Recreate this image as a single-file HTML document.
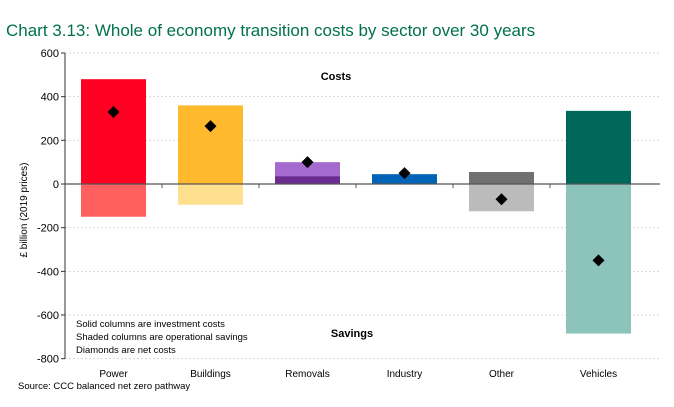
<!DOCTYPE html>
<html><head><meta charset="utf-8"><style>
body{margin:0;background:#fff;font-family:"Liberation Sans",sans-serif}
svg text{font-family:"Liberation Sans",sans-serif}
</style></head><body>
<svg width="674" height="402">
<text x="6" y="36" font-size="17" fill="#00704f">Chart 3.13: Whole of economy transition costs by sector over 30 years</text>
<g id="grid"></g><g id="bars"></g><g id="axes"></g>
<text x="336" y="80" font-size="11" font-weight="bold" text-anchor="middle">Costs</text>
<text x="352" y="337" font-size="11" font-weight="bold" text-anchor="middle">Savings</text>
<text x="76" y="327" font-size="9.5">Solid columns are investment costs</text>
<text x="76" y="340" font-size="9.5">Shaded columns are operational savings</text>
<text x="76" y="353" font-size="9.5">Diamonds are net costs</text>
<text x="18" y="389" font-size="9.5">Source: CCC balanced net zero pathway</text>
<text transform="translate(27,210) rotate(-90)" font-size="10" text-anchor="middle">£ billion (2019 prices)</text>
</svg>
<script>
const categories=["Power","Buildings","Removals","Industry","Other","Vehicles"];
const investment=[480,360,100,45,55,335];
const investmentDark=[0,0,35,0,0,0];
const savings=[-150,-95,0,0,-125,-685];
const netCosts=[330,265,100,50,-70,-350];
const yTicks=[600,400,200,0,-200,-400,-600,-800];
const solidColors=["#ff0022","#ffb92d","#a56acd","#0063b8","#707070","#00685a"];
const shadeColors=["#ff5f5f","#ffe08f","#a56acd","#0063b8","#bbbbbb","#8cc3ba"];
const NS="http://www.w3.org/2000/svg";
const X0=65,CW=97,Y0=184,K=131/600;
const y=v=>Y0-v*K, xc=i=>X0+CW*(i+0.5);
function mk(t,a,p){const e=document.createElementNS(NS,t);for(const k in a)e.setAttribute(k,a[k]);p.appendChild(e);return e;}
const grid=document.getElementById('grid'),bars=document.getElementById('bars'),axes=document.getElementById('axes');
yTicks.forEach(t=>{
 const l=mk('line',{x1:X0,x2:660,y1:y(t),y2:y(t),stroke:'#d0d0d0','stroke-dasharray':'2,2','stroke-width':0.8},grid);
 
 
 const tx=mk('text',{x:X0-6,y:y(t)+4,'font-size':11,'text-anchor':'end'},axes);tx.textContent=t;
 
 
 mk('line',{x1:X0-4,x2:X0,y1:y(t),y2:y(t),stroke:'#333'},axes);
});
const bw=65;
categories.forEach((c,i)=>{
 const x=xc(i)-bw/2;
 const r=mk('rect',{x:x,y:y(investment[i]),width:bw,height:investment[i]*K,fill:solidColors[i]},bars);
 
 
 if(investmentDark[i]>0){const d=mk('rect',{x:x,y:y(investmentDark[i]),width:bw,height:investmentDark[i]*K,fill:'#6a2c91'},bars);
 
 }
 if(savings[i]<0){const s=mk('rect',{x:x,y:Y0,width:bw,height:-savings[i]*K,fill:shadeColors[i]},bars);
 
 }
 const cx=xc(i),cy=y(netCosts[i]);
 const dm=mk('polygon',{points:`${cx},${cy-6} ${cx+6},${cy} ${cx},${cy+6} ${cx-6},${cy}`,fill:'#000'},bars);
 
 
 const lb=mk('text',{x:cx,y:377,'font-size':10,'text-anchor':'middle'},axes);lb.textContent=c;
 
 
 if(i>0)mk('line',{x1:X0+CW*i,x2:X0+CW*i,y1:Y0,y2:Y0+4,stroke:'#555'},axes);
});
mk('line',{x1:X0,x2:X0,y1:y(600),y2:y(-800),stroke:'#333'},axes);
mk('line',{x1:X0,x2:660,y1:Y0,y2:Y0,stroke:'#555','stroke-width':1.2},axes);
</script>
</body></html>
